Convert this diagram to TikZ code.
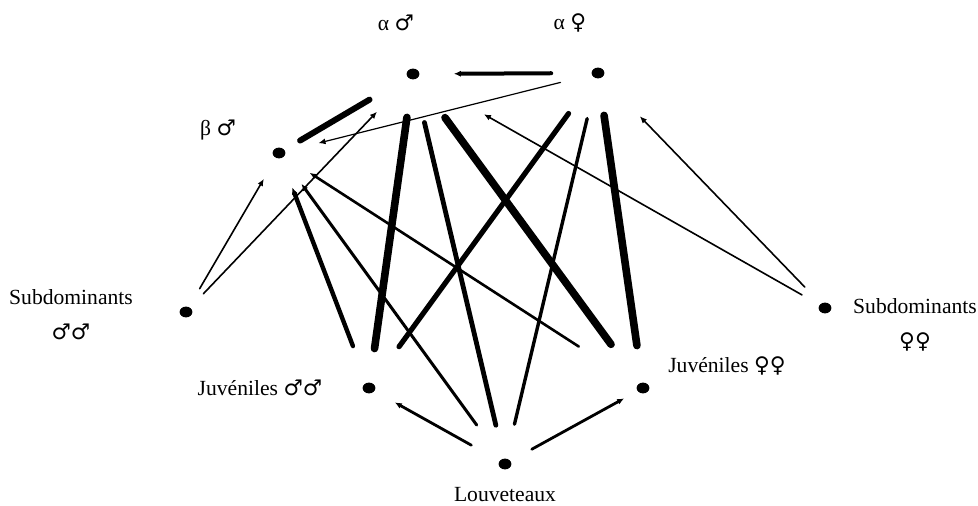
\documentclass[tikz,border=0pt]{standalone}
\usepackage{fontspec}
\setmainfont{Liberation Serif}
\newfontfamily\symbfont{DejaVu Sans}
\usetikzlibrary{arrows.meta,shapes.geometric}
\newcommand{\msym}{{\symbfont ♂}}
\newcommand{\fsym}{{\symbfont ♀}}

\begin{document}
\begin{tikzpicture}[x=0.5pt, y=-0.5pt,
  dot/.style={ellipse, fill=black, inner sep=0pt, minimum width=6.4pt, minimum height=5.4pt},
  lab/.style={font=\fontsize{10.8}{17.5}\selectfont, align=center, inner sep=0pt},
  link/.style={line cap=round},
  arr/.style={link, -{Latex[length=3.5pt,width=3pt]}},
  gap/.style 2 args={shorten <=#1pt, shorten >=#2pt}]
  \useasboundingbox (0,0) rectangle (978,506);
  % dots, at pixel positions of the figure
  \node[dot] (alphaM) at (413,74)  {};
  \node[dot] (alphaF) at (598,73)  {};
  \node[dot] (betaM)  at (279,153) {};
  \node[dot] (subM)   at (186,312) {};
  \node[dot] (subF)   at (825,308) {};
  \node[dot] (juvM)   at (369,388) {};
  \node[dot] (juvF)   at (643,388) {};
  \node[dot] (louv)   at (505,464) {};
  % labels
  \node[lab] (labAlphaM) at (396,23)  {α \msym};
  \node[lab] (labAlphaF) at (570,23)  {α \fsym};
  \node[lab] (labBetaM)  at (218,130) {β \msym};
  \node[lab] (labSubM)   at (71,315)  {Subdominants\\ \msym\msym};
  \node[lab] (labSubF)   at (915,325) {Subdominants\\ \fsym\fsym};
  \node[lab] (labJuvM)   at (260,388) {Juvéniles \msym\msym};
  \node[lab] (labJuvF)   at (727,366) {Juvéniles \fsym\fsym};
  \node[lab] (labLouv)   at (505,495) {Louveteaux};
  % top of the hierarchy
  \draw[arr, line width=2pt, gap={20}{17}] (alphaF) -- (alphaM);
  \draw[arr, line width=0.6pt, gap={16}{17}] (alphaF) -- (betaM);
  \draw[link, line width=3pt, gap={9}{22}] (betaM) -- (alphaM);
  % subdominants
  \draw[arr, line width=0.8pt, gap={10.5}{12}] (subM) -- (betaM);
  \draw[arr, line width=0.8pt, gap={9.5}{23}] (subM) -- (alphaM);
  \draw[arr, line width=0.8pt, gap={10}{37.5}] (subF) -- (alphaM);
  \draw[arr, line width=0.8pt, gap={11.5}{27}] (subF) -- (alphaF);
  % alphas to the young
  \draw[link, line width=3.8pt, gap={19}{17}] (alphaM) -- (juvM);
  \draw[link, line width=2.4pt, gap={22}{17}] (alphaM) -- (louv);
  \draw[link, line width=3.8pt, gap={24}{24}] (alphaM) -- (juvF);
  \draw[link, line width=2.6pt, gap={22}{22.5}] (alphaF) -- (juvM);
  \draw[link, line width=1.7pt, gap={20.5}{17.5}] (alphaF) -- (louv);
  \draw[link, line width=3.8pt, gap={18.5}{18.5}] (alphaF) -- (juvF);
  % beta
  \draw[arr, line width=2.2pt, gap={19.5}{15.5}] (juvM) -- (betaM);
  \draw[arr, line width=1.5pt, gap={21}{16}] (louv) -- (betaM);
  \draw[arr, line width=1.3pt, gap={35}{15}] (juvF) -- (betaM);
  % pups
  \draw[arr, line width=1.4pt, gap={16}{11.5}] (louv) -- (juvM);
  \draw[arr, line width=1.4pt, gap={12}{7.5}] (louv) -- (juvF);
\end{tikzpicture}
\end{document}
